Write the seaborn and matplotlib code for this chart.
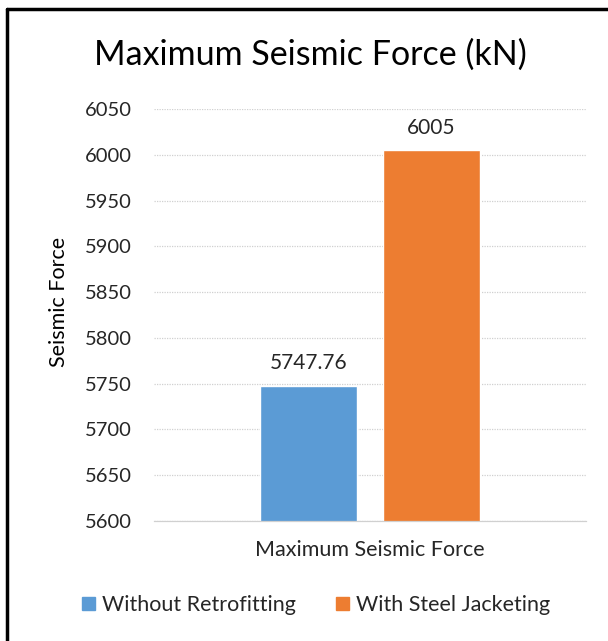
import matplotlib
matplotlib.use("Agg")
import matplotlib.pyplot as plt
import seaborn as sns
import pandas as pd
from matplotlib.patches import Rectangle

categories = ["Maximum Seismic Force"]
series = ["Without Retrofitting", "With Steel Jacketing"]
values = [5747.76, 6005]
value_labels = ["5747.76", "6005"]
colors = ["#5B9BD5", "#ED7D31"]
y_ticks = [5600, 5650, 5700, 5750, 5800, 5850, 5900, 5950, 6000, 6050]

df = pd.DataFrame({
    "category": categories * len(series),
    "series": series,
    "value": values,
})

sns.set_theme(style="white")
plt.rcParams["font.family"] = ["Lato", "DejaVu Sans"]

fig = plt.figure(figsize=(6.08, 6.41), dpi=100)
ax = fig.add_axes([154 / 608, 1 - 521 / 641, 432 / 608, 412 / 641])

sns.barplot(data=df, x="category", y="value", hue="series", palette=colors,
            saturation=1, ax=ax, width=0.565, gap=0.205, legend=False)

ax.set_ylim(y_ticks[0], y_ticks[-1])
ax.set_yticks(y_ticks)
ax.set_yticklabels([str(t) for t in y_ticks], fontsize=14.5, color="#262626")
ax.tick_params(axis="y", length=0, pad=16)
ax.tick_params(axis="x", length=0, pad=14, labelsize=15.5, labelcolor="#262626")
ax.set_xlabel("")
ax.set_ylabel("Seismic Force", fontsize=15.5, color="black")
ax.yaxis.set_label_coords(-(154 - 69) / 432, (521 - 302) / 412)
ax.grid(axis="y", color="#d0d0d0", linewidth=0.9, linestyle=(0, (1, 1)))
ax.set_axisbelow(True)
for s in ["top", "right", "left"]:
    ax.spines[s].set_visible(False)
ax.spines["bottom"].set_color("#d0d0d0")
ax.spines["bottom"].set_linewidth(0.9)

bars = [p for p in ax.patches if isinstance(p, Rectangle)]
bars = sorted(bars, key=lambda p: p.get_x())
for bar, lab in zip(bars, value_labels):
    ax.annotate(lab, (bar.get_x() + bar.get_width() / 2, bar.get_y() + bar.get_height()),
                xytext=(0, 9), textcoords="offset points", ha="center", va="bottom",
                fontsize=15, color="#262626")

fig.text(310 / 608, 1 - 55 / 641, "Maximum Seismic Force (kN)",
         ha="center", va="center", fontsize=24.5, color="black")

handles = [Rectangle((0, 0), 1, 1, color=c) for c in colors]
fig.legend(handles, series, loc="center", bbox_to_anchor=(316 / 608, 1 - 605 / 641),
           ncol=2, frameon=False, fontsize=15.5, handlelength=0.6, handleheight=0.6,
           handletextpad=0.3, columnspacing=1.9)

# Frame around the chart area
fig.add_artist(plt.Line2D([7 / 608, 7 / 608], [0, 1 - 9 / 641], color="black",
                          linewidth=2.5, transform=fig.transFigure))
fig.add_artist(plt.Line2D([7 / 608, 1], [1 - 9 / 641, 1 - 9 / 641], color="black",
                          linewidth=2.5, transform=fig.transFigure))

fig.savefig("out.png", dpi=100, facecolor="white")
